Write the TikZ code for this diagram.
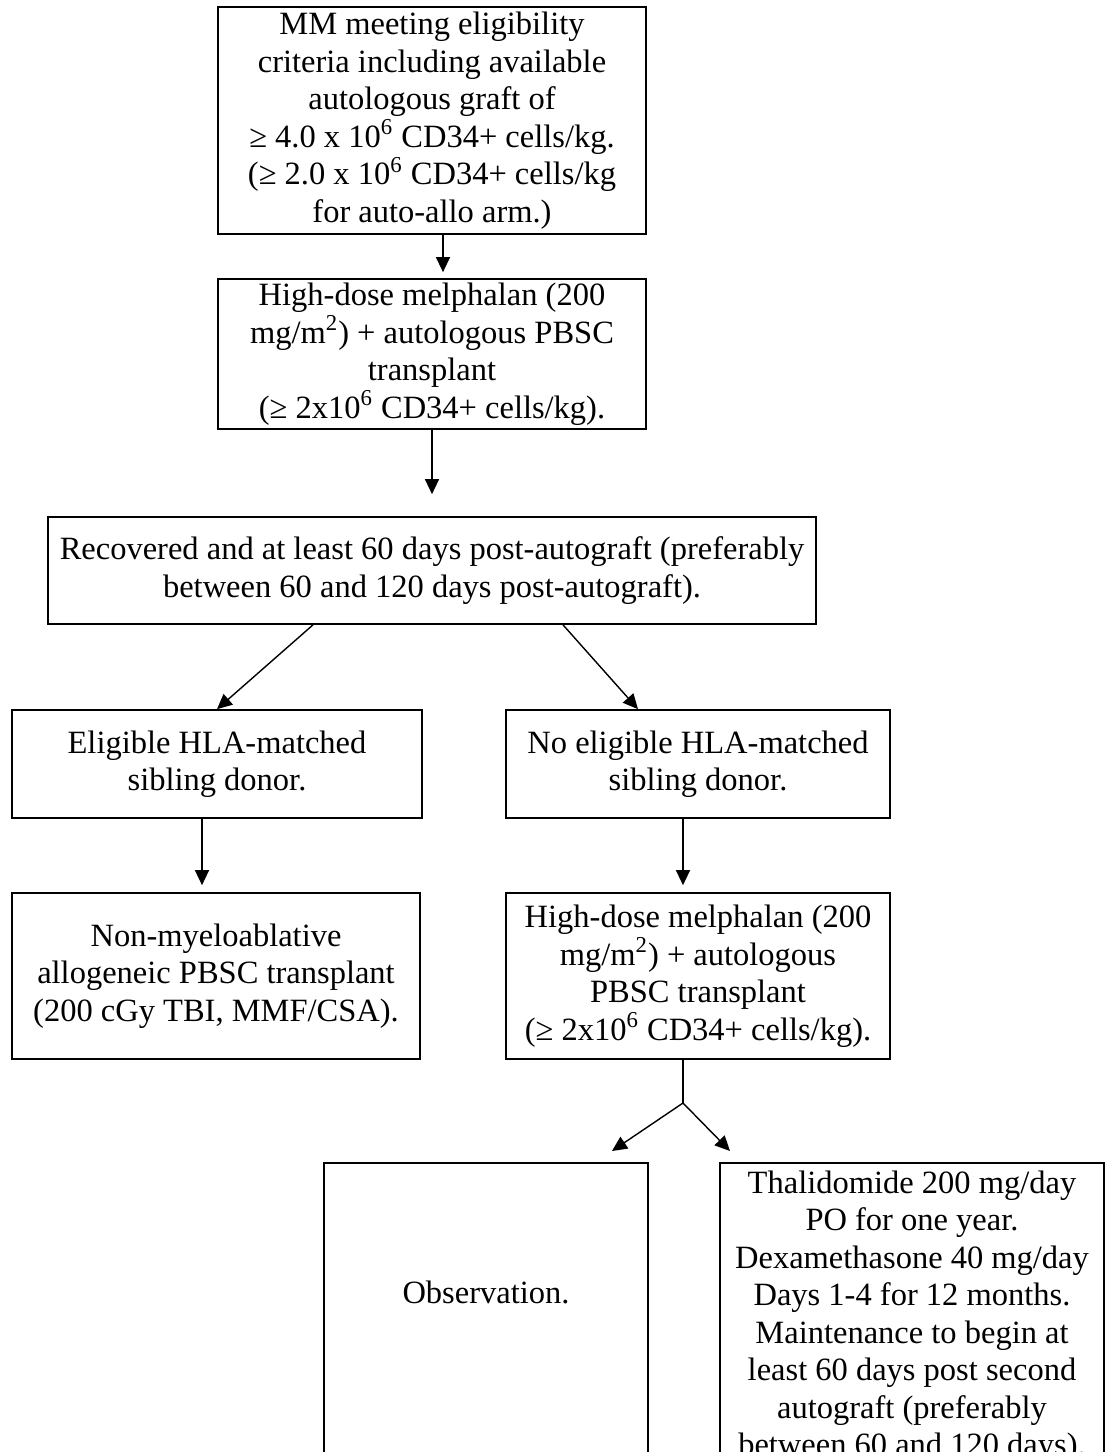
\documentclass[tikz,border=0pt]{standalone}
\usepackage{fontspec}
\setmainfont{Liberation Serif}
\usetikzlibrary{arrows.meta}
\begin{document}
\begin{tikzpicture}[x=0.5pt,y=-0.5pt,
  frame/.style={draw, line width=0.85pt, rectangle, inner sep=2pt,
    font=\fontsize{16.25pt}{18.75pt}\selectfont},
  box/.style={frame, align=center},
  arr/.style={line width=0.7pt, -{Triangle[length=7.5pt,width=7pt]}},
  ln/.style={line width=0.7pt}]
\useasboundingbox (0,0) rectangle (1106,1452);
\clip (0,0) rectangle (1106,1452);

\node[box, minimum width=214pt, minimum height=113.5pt] (b1) at (432,120.5)
  {MM meeting eligibility\\ criteria including available\\ autologous graft of\\
   ≥ 4.0 x 10\textsuperscript{6} CD34+ cells/kg.\\
   (≥ 2.0 x 10\textsuperscript{6} CD34+ cells/kg\\ for auto-allo arm.)};
\node[box, minimum width=214pt, minimum height=75pt] (b2) at (432,354)
  {High-dose melphalan (200\\ mg/m\textsuperscript{2}) + autologous PBSC\\ transplant\\
   (≥ 2x10\textsuperscript{6} CD34+ cells/kg).};
\node[box, minimum width=384pt, minimum height=53.5pt] (b3) at (432,570.5)
  {Recovered and at least 60 days post-autograft (preferably\\
   between 60 and 120 days post-autograft).};
\node[box, minimum width=205pt, minimum height=54pt] (b4) at (217,764)
  {Eligible HLA-matched\\ sibling donor.};
\node[box, minimum width=192pt, minimum height=54pt] (b5) at (698,764)
  {No eligible HLA-matched\\ sibling donor.};
\node[box, minimum width=204pt, minimum height=83pt] (b6) at (216,976)
  {Non-myeloablative\\ allogeneic PBSC transplant\\ (200 cGy TBI, MMF/CSA).};
\node[box, minimum width=192pt, minimum height=83pt] (b7) at (698,976)
  {High-dose melphalan (200\\ mg/m\textsuperscript{2}) + autologous\\ PBSC transplant\\
   (≥ 2x10\textsuperscript{6} CD34+ cells/kg).};
\node[frame, anchor=north, minimum width=162pt, inner ysep=0pt,
  text height=70.5pt, text depth=91pt] (b8) at (486,1162) {Observation.};
\node[box, anchor=north, minimum width=192pt, inner ysep=4pt] (b9) at (912,1162)
  {Thalidomide 200 mg/day\\ PO for one year.\\ Dexamethasone 40 mg/day\\
   Days 1-4 for 12 months.\\ Maintenance to begin at\\ least 60 days post second\\
   autograft (preferably\\ between 60 and 120 days).};

\coordinate (fork) at (683,1103);

\draw[arr, shorten >=3pt] ([xshift=5.5pt]b1.south) -- ([xshift=5.5pt]b2.north);
\draw[arr, shorten >=11pt] (b2.south) -- (b3.north);
\draw[arr] ([xshift=-59.5pt]b3.south) -- (b4.north);
\draw[arr] ([xshift=65.5pt]b3.south) -- ([xshift=-30pt]b5.north);
\draw[arr, shorten >=3.5pt] ([xshift=-7.5pt]b4.south) -- ([xshift=-7pt]b6.north);
\draw[arr, shorten >=3.5pt] ([xshift=-7.5pt]b5.south) -- ([xshift=-7.5pt]b7.north);
\draw[ln] ([xshift=-7.5pt]b7.south) -- (fork);
\draw[arr] (fork) -- ([shift={(126,-11)}]b8.north);
\draw[arr] (fork) -- ([shift={(-182,-11)}]b9.north);
\end{tikzpicture}
\end{document}
